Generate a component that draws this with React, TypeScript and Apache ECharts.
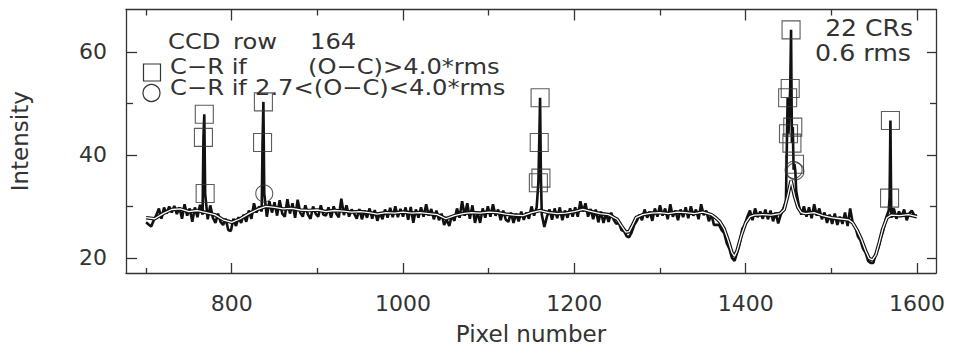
import React, { useEffect, useRef } from "react";
import * as echarts from "echarts";

// ---- axes ----
const X_MIN = 676.6;
const X_MAX = 1622.2;
const Y_MIN = 17.06;
const Y_MAX = 68.25;
const xMajorTicks = [800, 1000, 1200, 1400, 1600];
const xMinorTicks = [700, 900, 1100, 1300, 1500];
const yMajorTicks = [20, 40, 60];
const yMinorTicks = [30, 50];

// ---- smooth fit (white line) ----
const modelPixels = [
  700, 710, 720, 730, 740, 750, 760, 770, 780, 790, 800, 810, 820, 830, 840, 850, 860, 870, 880, 890,
  900, 910, 920, 930, 940, 950, 960, 970, 980, 990, 1000, 1010, 1020, 1030, 1040, 1050, 1060, 1070,
  1080, 1090, 1100, 1110, 1120, 1130, 1140, 1150, 1160, 1170, 1180, 1190, 1200, 1210, 1220, 1230,
  1240, 1250, 1255, 1260, 1264, 1268, 1272, 1280, 1290, 1300, 1310, 1320, 1330, 1340, 1350, 1360,
  1365, 1370, 1375, 1380, 1384, 1387, 1390, 1395, 1400, 1405, 1410, 1420, 1430, 1440, 1445, 1449,
  1453, 1457, 1461, 1465, 1470, 1480, 1490, 1500, 1510, 1520, 1525, 1530, 1535, 1540, 1544, 1548,
  1552, 1556, 1560, 1565, 1570, 1580, 1590, 1600,
];
const modelValues = [
  27.8, 27.6, 28.6, 29.4, 29.5, 29.0, 29.2, 28.8, 28.4, 27.4, 26.9, 27.6, 28.6, 29.4, 30.0, 29.8, 29.5, 29.6, 29.3, 29.2,
  29.3, 29.0, 29.2, 29.1, 28.9, 29.0, 28.8, 28.5, 28.8, 28.7, 28.9, 28.7, 28.8, 28.6, 28.4, 27.6, 28.2, 28.6,
  28.8, 28.7, 28.9, 28.8, 28.5, 28.3, 28.2, 28.8, 29.2, 28.8, 28.6, 28.7, 29.0, 29.4, 29.0, 28.6,
  28.4, 27.5, 26.2, 25.0, 25.1, 26.4, 27.8, 28.4, 28.7, 28.8, 28.6, 28.9, 28.8, 28.6, 28.9, 28.4,
  27.8, 27.0, 25.6, 23.2, 21.0, 20.3, 21.4, 24.4, 26.8, 28.0, 28.3, 28.4, 28.3, 28.6, 29.4, 32.0,
  35.0, 32.0, 29.8, 28.8, 28.6, 28.8, 28.2, 27.8, 27.6, 27.4, 26.8, 25.4, 23.6, 21.4, 19.9, 19.6,
  20.6, 23.0, 25.6, 27.8, 28.3, 28.2, 28.4, 28.0,
];

// ---- observed row (black line), [pixel, intensity] ----
const observed: [number, number][] = [
  [700, 26.9], [703, 26.5], [706, 26.1], [709, 27.3], [712, 28.3], [715, 29.6], [718, 27.6], [721, 29.8],
  [724, 28.6], [727, 30.0], [730, 28.8], [733, 30.1], [736, 28.5], [739, 29.8], [742, 27.6], [745, 30.4],
  [748, 28.2], [751, 29.6], [754, 27.0], [757, 29.8], [760, 27.9], [763, 30.3], [766, 28.4], [769, 28.8],
  [772, 27.5], [775, 30.2], [778, 27.8], [781, 26.8], [784, 28.6], [787, 27.0], [790, 26.4], [793, 27.6],
  [796, 25.4], [799, 25.2], [802, 27.6], [805, 26.2], [808, 27.9], [811, 26.8], [814, 28.4], [817, 27.0],
  [820, 29.2], [823, 27.6], [826, 30.6], [829, 28.8], [832, 30.0], [835, 29.0], [838, 29.7], [841, 28.0],
  [844, 31.0], [847, 28.8], [850, 30.8], [853, 28.2], [856, 31.2], [859, 28.6], [862, 28.0], [865, 31.4],
  [868, 28.6], [871, 30.6], [874, 27.8], [877, 31.3], [880, 28.8], [883, 28.0], [886, 30.2], [889, 28.4],
  [892, 27.6], [895, 30.0], [898, 28.6], [901, 28.0], [904, 30.2], [907, 28.4], [910, 28.2], [913, 29.8],
  [916, 27.8], [919, 30.0], [922, 28.6], [925, 27.9], [928, 31.5], [931, 28.3], [934, 30.2], [937, 28.0],
  [940, 29.4], [943, 28.6], [946, 27.6], [949, 29.5], [952, 27.5], [955, 29.2], [958, 27.8], [961, 29.6],
  [964, 27.6], [967, 29.3], [970, 27.2], [973, 28.8], [976, 27.5], [979, 29.4], [982, 27.8], [985, 29.7],
  [988, 27.9], [991, 30.0], [994, 27.9], [997, 29.5], [1000, 28.0], [1003, 29.8], [1006, 27.4], [1009, 29.9],
  [1012, 26.8], [1015, 29.4], [1018, 27.8], [1021, 29.8], [1024, 28.0], [1027, 30.4], [1030, 28.2], [1033, 29.5],
  [1036, 27.5], [1039, 29.2], [1042, 27.3], [1045, 28.6], [1048, 26.4], [1051, 27.4], [1054, 26.2], [1057, 28.2],
  [1060, 27.2], [1063, 29.6], [1066, 27.8], [1069, 31.0], [1072, 28.2], [1075, 30.6], [1078, 27.6], [1081, 30.2],
  [1084, 26.8], [1087, 28.9], [1090, 26.8], [1093, 29.6], [1096, 27.8], [1099, 30.0], [1102, 28.0], [1105, 30.4],
  [1108, 28.2], [1111, 29.4], [1114, 27.3], [1117, 29.2], [1120, 27.4], [1123, 27.0], [1126, 28.8], [1129, 26.8],
  [1132, 28.6], [1135, 27.1], [1138, 29.0], [1141, 27.4], [1144, 28.8], [1147, 27.6], [1150, 30.0], [1153, 28.2],
  [1156, 29.8], [1159, 30.0], [1162, 28.4], [1165, 26.0], [1168, 28.0], [1171, 29.4], [1174, 27.4], [1177, 29.6],
  [1180, 27.7], [1183, 29.8], [1186, 27.3], [1189, 29.2], [1192, 27.8], [1195, 29.6], [1198, 28.0], [1201, 29.8],
  [1204, 28.0], [1207, 31.0], [1210, 29.0], [1213, 30.6], [1216, 28.0], [1219, 29.5], [1222, 27.5], [1225, 29.4],
  [1228, 26.9], [1231, 29.0], [1234, 26.8], [1237, 28.6], [1240, 27.0], [1243, 28.8], [1246, 27.4], [1249, 26.6],
  [1252, 26.8], [1255, 25.4], [1258, 25.2], [1261, 24.2], [1264, 24.0], [1267, 25.0], [1270, 26.4], [1273, 27.2],
  [1276, 28.4], [1279, 27.3], [1282, 29.4], [1285, 27.8], [1288, 29.0], [1291, 27.2], [1294, 29.6], [1297, 28.0],
  [1300, 30.2], [1303, 28.2], [1306, 29.6], [1309, 27.5], [1312, 30.4], [1315, 28.0], [1318, 29.2], [1321, 27.3],
  [1324, 29.4], [1327, 27.9], [1330, 29.8], [1333, 27.7], [1336, 30.0], [1339, 28.2], [1342, 29.4], [1345, 27.5],
  [1348, 30.4], [1351, 28.3], [1354, 29.2], [1357, 27.1], [1360, 28.4], [1363, 26.4], [1366, 26.4], [1369, 26.4],
  [1372, 25.4], [1375, 24.8], [1378, 22.8], [1381, 21.8], [1384, 20.0], [1387, 19.4], [1390, 21.0], [1393, 22.8],
  [1396, 25.6], [1399, 26.4], [1402, 28.0], [1405, 29.2], [1408, 27.3], [1411, 29.6], [1414, 27.9], [1417, 29.0],
  [1420, 27.6], [1423, 29.4], [1426, 27.5], [1429, 29.2], [1432, 27.1], [1435, 28.8], [1438, 26.7], [1441, 28.4],
  [1444, 29.6], [1447, 31.0], [1450, 36.0], [1453, 37.0], [1456, 36.0], [1459, 33.0], [1462, 30.2], [1465, 28.4],
  [1468, 30.0], [1471, 28.0], [1474, 29.8], [1477, 27.7], [1480, 30.4], [1483, 28.2], [1486, 29.6], [1489, 27.5],
  [1492, 28.8], [1495, 26.8], [1498, 28.4], [1501, 26.6], [1504, 28.6], [1507, 26.4], [1510, 28.0], [1513, 26.6],
  [1516, 28.8], [1519, 26.2], [1522, 29.6], [1525, 26.8], [1528, 26.0], [1531, 24.2], [1534, 23.4], [1537, 21.8],
  [1540, 21.0], [1543, 19.4], [1546, 19.0], [1549, 19.0], [1552, 20.8], [1555, 22.0], [1558, 24.0], [1561, 25.6],
  [1564, 27.8], [1567, 29.2], [1570, 27.8], [1573, 29.6], [1576, 27.6], [1579, 29.0], [1582, 28.0], [1585, 29.4],
  [1588, 27.3], [1591, 28.6], [1594, 29.2], [1597, 28.2], [1600, 28.2],
];

// ---- cosmic-ray pixels: replaced if (O-C) > 4.0*rms (squares) ----
const crSquarePixels = [767, 768, 769, 836, 837, 1158, 1159, 1160, 1161, 1449, 1450, 1452, 1453, 1454, 1455, 1457, 1568, 1569];
const crSquareValues = [43.4, 47.9, 32.5, 42.4, 50.3, 34.6, 42.4, 51.1, 35.5, 51.1, 44.1, 52.9, 64.3, 42.3, 45.4, 38.2, 31.6, 46.7];
// ---- replaced if 2.7 < (O-C) < 4.0*rms (circles) ----
const crCirclePixels = [838, 1456, 1458];
const crCircleValues = [32.5, 37.1, 36.8];

const FONT = '"DejaVu Sans ExtraLight", "DejaVu Sans", "Liberation Sans", sans-serif';
const INK = "#333333";

export default function App() {
  const ref = useRef<HTMLDivElement>(null);

  useEffect(() => {
    if (!ref.current) return;
    const chart = echarts.init(ref.current, undefined, { renderer: "svg" });

    const merged = new Map<number, number>();
    observed.forEach(([p, v]) => merged.set(p, v));
    crSquarePixels.forEach((p, i) => merged.set(p, crSquareValues[i]));
    crCirclePixels.forEach((p, i) => merged.set(p, crCircleValues[i]));
    const obsData = Array.from(merged.entries()).sort((a, b) => a[0] - b[0]);
    const modelData = modelPixels.map((p, i) => [p, modelValues[i]]);
    const sqData = crSquarePixels.map((p, i) => [p, crSquareValues[i]]);
    const ciData = crCirclePixels.map((p, i) => [p, crCircleValues[i]]);

    const axisLineStyle = { color: "#333", width: 1.3 };
    const fmt = (v: number) => String(v);
    const mkX = (position: string, ticks: number[], len: number, main: boolean) => ({
      type: "value",
      position,
      min: X_MIN,
      max: X_MAX,
      axisLine: { show: main, onZero: false, lineStyle: axisLineStyle },
      axisTick: { show: true, inside: true, length: len, customValues: ticks, lineStyle: axisLineStyle },
      axisLabel:
        main && position === "bottom"
          ? { show: true, customValues: ticks, formatter: fmt, fontFamily: FONT, fontSize: 22, color: INK, margin: 19 }
          : { show: false },
      splitLine: { show: false },
      ...(main && position === "bottom"
        ? {
            name: "Pixel number",
            nameLocation: "middle",
            nameGap: 49,
            nameTextStyle: { fontFamily: FONT, fontSize: 23, color: INK },
          }
        : {}),
    });
    const mkY = (position: string, ticks: number[], len: number, main: boolean) => ({
      type: "value",
      position,
      min: Y_MIN,
      max: Y_MAX,
      axisLine: { show: main, onZero: false, lineStyle: axisLineStyle },
      axisTick: { show: true, inside: true, length: len, customValues: ticks, lineStyle: axisLineStyle },
      axisLabel:
        main && position === "left"
          ? { show: true, customValues: ticks, formatter: fmt, fontFamily: FONT, fontSize: 22, color: INK, margin: 19 }
          : { show: false },
      splitLine: { show: false },
      ...(main && position === "left"
        ? {
            name: "Intensity",
            nameLocation: "middle",
            nameGap: 95,
            nameTextStyle: { fontFamily: FONT, fontSize: 23, color: INK },
          }
        : {}),
    });

    const txt = (text: string, x: number, y: number, align = "left", size = 22, sx = 1.1) => ({
      type: "text",
      x,
      y,
      scaleX: sx,
      style: {
        text,
        x: 0,
        y: 0,
        font: `${size}px ${FONT}`,
        fill: INK,
        textAlign: align,
        textVerticalAlign: "middle",
      },
    });

    chart.setOption({
      animation: false,
      backgroundColor: "#ffffff",
      grid: { left: 126, top: 9.5, width: 810, height: 271.8, containLabel: false },
      xAxis: [
        mkX("bottom", xMajorTicks, 10, true),
        mkX("bottom", xMinorTicks, 5, false),
        mkX("top", xMajorTicks, 11, true),
        mkX("top", xMinorTicks, 6, false),
      ],
      yAxis: [
        mkY("left", yMajorTicks, 11, true),
        mkY("left", yMinorTicks, 7, false),
        mkY("right", yMajorTicks, 9, true),
        mkY("right", yMinorTicks, 6, false),
      ],
      series: [
        {
          type: "line",
          name: "observed",
          data: obsData,
          showSymbol: false,
          symbol: "none",
          lineStyle: { color: "#111", width: 2.6 },
          z: 2,
        },
        {
          type: "line",
          name: "fit outline",
          data: modelData,
          showSymbol: false,
          symbol: "none",
          lineStyle: { color: "#111", width: 3.6 },
          z: 3,
        },
        {
          type: "line",
          name: "fit",
          data: modelData,
          showSymbol: false,
          symbol: "none",
          lineStyle: { color: "#ffffff", width: 1.3 },
          z: 4,
        },
        {
          type: "scatter",
          name: "CR >4.0 rms",
          data: sqData,
          symbol: "rect",
          symbolSize: 18,
          itemStyle: { color: "rgba(0,0,0,0)", borderColor: "#333", borderWidth: 1.1 },
          z: 5,
        },
        {
          type: "scatter",
          name: "CR 2.7-4.0 rms",
          data: ciData,
          symbol: "circle",
          symbolSize: 17,
          itemStyle: { color: "rgba(0,0,0,0)", borderColor: "#333", borderWidth: 1.1 },
          z: 5,
        },
      ],
      graphic: [
        txt("CCD", 168, 41),
        txt("row", 233, 41),
        txt("164", 310, 41),
        {
          type: "rect",
          shape: { x: 143.5, y: 64, width: 17, height: 17 },
          style: { fill: "none", stroke: "#333", lineWidth: 1.2 },
        },
        txt("C\u2212R if", 170, 66),
        txt("(O\u2212C)>4.0*rms", 308, 66),
        {
          type: "circle",
          shape: { cx: 151.5, cy: 93, r: 8.5 },
          style: { fill: "none", stroke: "#333", lineWidth: 1.2 },
        },
        txt("C\u2212R if", 170, 87),
        txt("2.7<(O\u2212C)<4.0*rms", 255, 87),
        txt("22 CRs", 913, 28.5, "right", 23, 1.09),
        txt("0.6 rms", 911, 53.5, "right", 23, 1.1),
      ],
    });

    return () => chart.dispose();
  }, []);

  return <div ref={ref} style={{ width: 954, height: 350, marginLeft: -8, marginTop: -8 }} />;
}
